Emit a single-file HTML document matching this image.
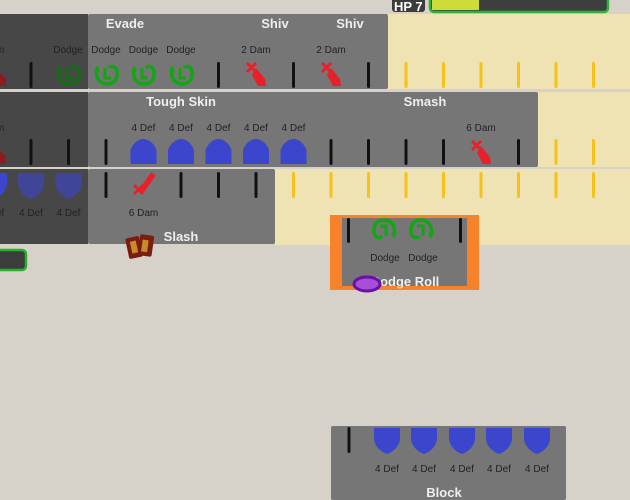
<!DOCTYPE html>
<html><head><meta charset="utf-8"><style>
html,body{margin:0;padding:0;width:630px;height:500px;overflow:hidden;background:#d6d2c9}
svg{display:block}
text{font-family:"Liberation Sans","DejaVu Sans",sans-serif}
</style></head><body>
<svg width="630" height="500" viewBox="0 0 630 500" xmlns="http://www.w3.org/2000/svg">
<defs>
<g id="ln"><rect x="-1.5" y="0" width="3" height="26" rx="1.5" fill="#111"/></g>
<g id="yl"><rect x="-1.5" y="0" width="3" height="26" rx="1.5" fill="#f5c21a"/></g>
<g id="dg"><path d="M-9,-9 L-12,-2 L-6,-3 Z" fill="currentColor"/><path d="M-9,-4 C-11,4 -6,10 1,10 C8,10 12,5 11,-2 C10,-8 5,-9 3,-6" fill="none" stroke="currentColor" stroke-width="3.5"/><path d="M-1,-6 L-1,4 L5,4" fill="none" stroke="currentColor" stroke-width="3"/></g>
<g id="sw"><path d="M-2,-6 L7,5 L8,12 L0,12 L-6,1 Z" fill="#e8202a"/><path d="M-11,-11 L-2,-2 M-2,-11 L-11,-2" stroke="#e8202a" stroke-width="3"/></g>
<g id="sh"><path d="M-13,-8 C-10,-16 -4,-19 0,-19 C4,-19 10,-16 13,-8 L13,6 L-13,6 Z" fill="#3b46cc"/></g>
<g id="sd"><path d="M-13,-12 L13,-12 L13,-2 C13,6 6,12 0,14 C-6,12 -13,6 -13,-2 Z" fill="#3b46cc"/></g>
</defs>
<!-- cream area -->
<rect x="275" y="14" width="355" height="231" fill="#efe3b3"/>
<rect x="0" y="89" width="630" height="3" fill="#d6d2c9"/>
<rect x="0" y="167" width="630" height="2" fill="#d6d2c9"/>
<!-- row panels -->
<rect x="0" y="14" width="88" height="75" fill="#474747"/>
<rect x="88" y="14" width="300" height="75" rx="2" fill="#767676"/>
<rect x="0" y="92" width="88" height="75" fill="#474747"/>
<rect x="88" y="92" width="450" height="75" rx="2" fill="#767676"/>
<rect x="0" y="169" width="88" height="75" fill="#474747"/>
<rect x="88" y="169" width="187" height="75" rx="2" fill="#767676"/>
<!-- row1 -->
<path d="M-4,70 L6,78 L6,86 L-4,86Z" fill="#8a1d22"/>
<use href="#ln" x="31" y="62"/>
<use href="#dg" x="68" y="74" color="#136e13"/>
<use href="#dg" x="106" y="74" color="#12a612"/>
<use href="#dg" x="143" y="74" color="#12a612"/>
<use href="#dg" x="181" y="74" color="#12a612"/>
<use href="#ln" x="218.5" y="62"/>
<use href="#sw" x="258" y="74"/>
<use href="#ln" x="293.5" y="62"/>
<use href="#sw" x="333" y="74"/>
<use href="#ln" x="368.5" y="62"/>
<use href="#yl" x="406" y="62"/><use href="#yl" x="443.5" y="62"/><use href="#yl" x="481" y="62"/><use href="#yl" x="518.5" y="62"/><use href="#yl" x="556" y="62"/><use href="#yl" x="593.5" y="62"/>
<g font-size="10" fill="#222" text-anchor="middle">
<text x="68" y="53" fill="#222">Dodge</text><text x="106" y="53">Dodge</text><text x="143.5" y="53">Dodge</text><text x="181" y="53">Dodge</text>
<text x="256" y="53">2 Dam</text><text x="331" y="53">2 Dam</text><text x="0" y="53">m</text>
</g>
<g font-size="13" font-weight="bold" fill="#eee" text-anchor="middle">
<text x="125" y="28">Evade</text><text x="275" y="28">Shiv</text><text x="350" y="28">Shiv</text>
</g>
<!-- row2 -->
<path d="M-4,148 L6,156 L6,164 L-4,164Z" fill="#8a1d22"/>
<use href="#ln" x="31" y="139"/><use href="#ln" x="68.5" y="139"/><use href="#ln" x="106" y="139"/>
<use href="#sh" x="143.5" y="158"/><use href="#sh" x="181" y="158"/><use href="#sh" x="218.5" y="158"/><use href="#sh" x="256" y="158"/><use href="#sh" x="293.5" y="158"/>
<use href="#ln" x="331" y="139"/><use href="#ln" x="368.5" y="139"/><use href="#ln" x="406" y="139"/><use href="#ln" x="443.5" y="139"/>
<use href="#sw" x="483" y="152"/>
<use href="#ln" x="518.5" y="139"/>
<use href="#yl" x="556" y="139"/><use href="#yl" x="593.5" y="139"/>
<g font-size="10" fill="#222" text-anchor="middle">
<text x="0" y="131">m</text>
<text x="143.5" y="131">4 Def</text><text x="181" y="131">4 Def</text><text x="218.5" y="131">4 Def</text><text x="256" y="131">4 Def</text><text x="293.5" y="131">4 Def</text>
<text x="481" y="131">6 Dam</text>
</g>
<g font-size="13" font-weight="bold" fill="#eee" text-anchor="middle">
<text x="181" y="106">Tough Skin</text><text x="425" y="106">Smash</text>
</g>
<!-- row3 -->
<use href="#sd" x="-6" y="185" fill="#2a3580"/>
<g opacity="0.6"><use href="#sd" x="31" y="185"/><use href="#sd" x="68.5" y="185"/></g>
<use href="#ln" x="106" y="172"/>
<g transform="translate(145,185)"><path d="M-6,3 L8,-12 L12,-8 L-2,7 Z" fill="#e8202a" transform="rotate(-8)"/><path d="M-11,0 L-2,9 M-2,0 L-11,9" stroke="#e8202a" stroke-width="3"/></g>
<use href="#ln" x="181" y="172"/><use href="#ln" x="218.5" y="172"/><use href="#ln" x="256" y="172"/>
<use href="#yl" x="293.5" y="172"/><use href="#yl" x="331" y="172"/><use href="#yl" x="368.5" y="172"/><use href="#yl" x="406" y="172"/><use href="#yl" x="443.5" y="172"/><use href="#yl" x="481" y="172"/><use href="#yl" x="518.5" y="172"/><use href="#yl" x="556" y="172"/><use href="#yl" x="593.5" y="172"/>
<g font-size="10" fill="#222" text-anchor="middle">
<text x="0" y="216">ef</text><text x="31" y="216">4 Def</text><text x="68.5" y="216">4 Def</text><text x="143.5" y="216">6 Dam</text>
</g>
<text x="181" y="241" font-size="13" font-weight="bold" fill="#eee" text-anchor="middle">Slash</text>
<!-- cards icon -->
<g transform="translate(127,235)"><rect x="0" y="2" width="14" height="21" rx="2" fill="#7a1c10" transform="rotate(-12 7 12)"/><rect x="12" y="0" width="14" height="21" rx="2" fill="#7a1c10" transform="rotate(8 19 10)"/><rect x="4" y="6" width="6" height="12" fill="#c98a2a" transform="rotate(-12 7 12)"/><rect x="15" y="5" width="6" height="12" fill="#c98a2a" transform="rotate(8 19 10)"/></g>
<!-- left green box -->
<rect x="-6" y="250" width="32" height="20" rx="4" fill="#3c3c3c" stroke="#27b327" stroke-width="2.5"/>
<!-- dodge roll card -->
<rect x="330" y="215" width="149" height="75" fill="#f7822a"/>
<rect x="342" y="218" width="125" height="68" fill="#767676"/>
<rect x="347" y="218" width="3" height="25" rx="1.5" fill="#111"/>
<rect x="459" y="218" width="3" height="25" rx="1.5" fill="#111"/>
<g transform="translate(385,230) scale(-1,-1)" color="#12a612"><use href="#dg"/></g>
<g transform="translate(422,230) scale(-1,-1)" color="#12a612"><use href="#dg"/></g>
<g font-size="10" fill="#222" text-anchor="middle"><text x="385" y="261">Dodge</text><text x="423" y="261">Dodge</text></g>
<text x="405" y="286" font-size="13" font-weight="bold" fill="#eee" text-anchor="middle">Dodge Roll</text>
<ellipse cx="367" cy="284" rx="13" ry="7" fill="#a64fd6" stroke="#6a0fa8" stroke-width="3"/>
<!-- block card -->
<rect x="331" y="426" width="235" height="74" rx="2" fill="#767676"/>
<rect x="347.5" y="427" width="3" height="26" rx="1.5" fill="#111"/>
<use href="#sd" x="387" y="440"/><use href="#sd" x="424" y="440"/><use href="#sd" x="462" y="440"/><use href="#sd" x="499" y="440"/><use href="#sd" x="537" y="440"/>
<g font-size="10" fill="#222" text-anchor="middle"><text x="387" y="472">4 Def</text><text x="424" y="472">4 Def</text><text x="462" y="472">4 Def</text><text x="499" y="472">4 Def</text><text x="537" y="472">4 Def</text></g>
<text x="444" y="497" font-size="13" font-weight="bold" fill="#eee" text-anchor="middle">Block</text>
<!-- HP -->
<rect x="392" y="-3" width="33" height="15" rx="3" fill="#3c3c3c"/>
<text x="394" y="11" font-size="13" font-weight="bold" fill="#fff">HP 7</text>
<rect x="430" y="-4" width="178" height="16" rx="4" fill="#3e3e3e" stroke="#2db33a" stroke-width="2.5"/>
<rect x="432" y="-2" width="47" height="12" fill="#cddc39"/>
</svg>
</body></html>
